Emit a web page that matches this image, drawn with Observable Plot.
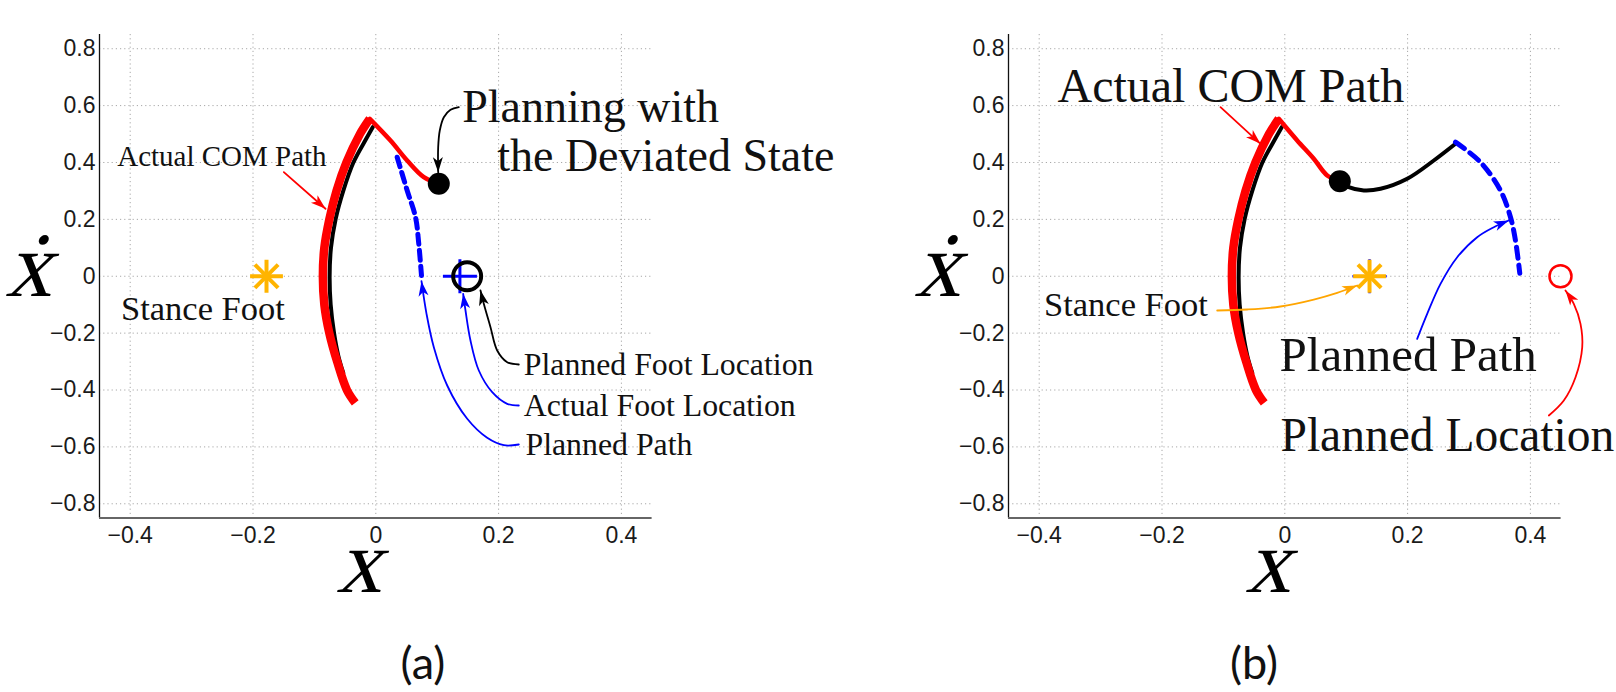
<!DOCTYPE html>
<html>
<head>
<meta charset="utf-8">
<script src="https://cdn.jsdelivr.net/npm/d3@7"></script>
<script src="https://cdn.jsdelivr.net/npm/@observablehq/plot@0.6"></script>
<style>
  html, body { margin: 0; padding: 0; background: #fff; }
  #wrap { position: relative; width: 1616px; height: 692px; overflow: hidden; background: #fff; }
  .panel { position: absolute; top: 0; width: 707px; }
  .cap { position: absolute; top: 640px; transform: translateX(-50%); font-family: Lato, "Open Sans", sans-serif; font-size: 45px; line-height: 45px; color: #111; white-space: nowrap; }
</style>
</head>
<body>
<div id="wrap">
  <div class="panel" id="pa" style="left:0px"></div>
  <div class="panel" id="pb" style="left:909px"></div>
  <div class="cap" style="left:423px">(a)</div>
  <div class="cap" style="left:1254px">(b)</div>
</div>
<script>
// ---------- axes ----------
const xDomain = [-0.45, 0.45];
const yDomain = [-0.85, 0.85];
const xTicks = [-0.4, -0.2, 0, 0.2, 0.4];
const yTicks = [-0.8, -0.6, -0.4, -0.2, 0, 0.2, 0.4, 0.6, 0.8];
const xLabel = "x";
const yLabel = "\u1E8B";

// ---------- shared COM path (x, xdot) ----------
const comArc = [[-0.0335,-0.445],[-0.047,-0.4],[-0.063,-0.3],[-0.0757,-0.2],[-0.0838,-0.1],[-0.0862,0],[-0.0838,0.1],[-0.0757,0.2],[-0.064,0.3],[-0.0478,0.4],[-0.0258,0.5],[-0.0098,0.5536]];
const comInner = [[-0.053,-0.34],[-0.061,-0.28],[-0.068,-0.2],[-0.0735,-0.1],[-0.0752,0],[-0.073,0.1],[-0.0655,0.2],[-0.053,0.3],[-0.0365,0.4],[-0.0165,0.48],[-0.005,0.524]];

// ---------- panel (a) ----------
const comTailA = [[-0.0098,0.5536],[0.0239,0.4773],[0.0511,0.407],[0.0782,0.3483],[0.1026,0.325]];
const plannedPathA = [[0.0348,0.4186],[0.0511,0.3015],[0.0647,0.2076],[0.07,0.114],[0.0744,0.0026]];
const deviatedStateA = [[0.1026,0.325]];
const stanceFootA = [[-0.178,0]];
const actualFootA = [[0.137,0]];
const plannedFootA = [[0.1488,0]];

const comPointerA = [[-0.1498,0.3659],[-0.0819,0.2372]];
const deviatedPointerA = [[0.1352,0.5944],[0.1217,0.5852],[0.1108,0.5592],[0.1042,0.5125],[0.1016,0.4538],[0.1016,0.3658]];
const plannedFootPointerA = [[0.2329,-0.3103],[0.214,-0.3022],[0.1977,-0.2611],[0.1868,-0.1791],[0.1759,-0.0969],[0.1705,-0.0501]];
const actualFootPointerA = [[0.2329,-0.4545],[0.214,-0.4485],[0.1896,-0.4077],[0.1678,-0.3314],[0.1542,-0.2259],[0.1461,-0.1204],[0.1423,-0.0617]];
const plannedPathPointerA = [[0.2329,-0.5916],[0.2085,-0.594],[0.1814,-0.568],[0.1489,-0.5012],[0.1163,-0.3841],[0.0945,-0.2495],[0.0826,-0.132],[0.0744,-0.0174]];

const smallLabelA = [{x:-0.4212, y:0.4193, text:"Actual COM Path"}];
const stanceLabelA = [{x:-0.415, y:-0.1159, text:"Stance Foot"}];
const bigLabelA = [{x:0.1407, y:0.5934, text:"Planning with"}, {x:0.1977, y:0.4235, text:"the Deviated State"}];
const footLabelsA = [{x:0.241, y:-0.3121, text:"Planned Foot Location"}, {x:0.241, y:-0.4569, text:"Actual Foot Location"}, {x:0.2438, y:-0.5934, text:"Planned Path"}];

// ---------- panel (b) ----------
const comTailB = [[-0.0098,0.5536],[0.0202,0.4773],[0.0472,0.413],[0.0691,0.3543],[0.0896,0.3342]];
const replannedB = [[0.0896,0.3342],[0.1042,0.3131],[0.1287,0.3015],[0.1559,0.3074],[0.1993,0.3427],[0.2427,0.407],[0.278,0.4657]];
const plannedPathB = [[0.278,0.4714],[0.3187,0.401],[0.3513,0.3015],[0.3676,0.2076],[0.3757,0.1257],[0.3827,0.0107]];
const deviatedStateB = [[0.0896,0.3342]];
const stanceFootB = [[0.138,0]];
const plannedLocationB = [[0.449,0]];

const comPointerB = [[-0.1047,0.5944],[-0.0396,0.4657]];
const stancePointerB = [[-0.1101,-0.1204],[-0.0612,-0.1169],[-0.007,-0.1064],[0.0472,-0.0818],[0.0853,-0.0583],[0.1179,-0.0325]];
const plannedPathPointerB = [[0.2156,-0.22],[0.2319,-0.1321],[0.2536,-0.0266],[0.2808,0.067],[0.3133,0.1373],[0.3404,0.1725],[0.3648,0.196]];
const plannedLocPointerB = [[0.43,-0.4896],[0.4544,-0.4369],[0.4735,-0.3549],[0.4844,-0.2495],[0.4816,-0.1672],[0.4707,-0.0969],[0.4571,-0.0501]];

const comLabelB = [{x:-0.3702, y:0.6651, text:"Actual COM Path"}];
const pathLabelB = [{x:-0.0086, y:-0.2787, text:"Planned Path"}];
const locLabelB = [{x:-0.007, y:-0.561, text:"Planned Location"}];
const stanceLabelB = [{x:-0.3922, y:-0.1007, text:"Stance Foot"}];

// ---------- helpers ----------
const SERIF = "'Liberation Serif', 'Times New Roman', serif";
const W = 707, H = 610;
const px = d => d[0], py = d => d[1];
const fmt = d => (d < 0 ? "\u2212" : "") + Math.abs(d);

function headMarker(color) {
  const ns = "http://www.w3.org/2000/svg";
  const m = document.createElementNS(ns, "marker");
  m.setAttribute("viewBox", "-16 -7 18 14");
  m.setAttribute("markerWidth", 18);
  m.setAttribute("markerHeight", 14);
  m.setAttribute("markerUnits", "userSpaceOnUse");
  m.setAttribute("refX", 0);
  m.setAttribute("refY", 0);
  m.setAttribute("orient", "auto");
  const p = document.createElementNS(ns, "path");
  p.setAttribute("d", "M0,0L-15,-5L-11,0L-15,5Z");
  p.setAttribute("fill", color);
  p.setAttribute("stroke", "none");
  m.appendChild(p);
  return m;
}

function pointer(pts, color) {
  const opts = {x: px, y: py, stroke: color, strokeWidth: 1.8, curve: "catmull-rom"};
  try { return Plot.line(pts, {...opts, markerEnd: headMarker}); }
  catch (e) { return Plot.line(pts, {...opts, markerEnd: "arrow"}); }
}

function labels(data, size) {
  return Plot.text(data, {x: "x", y: "y", text: "text", textAnchor: "start", lineAnchor: "middle", fontSize: size, fontFamily: SERIF, fill: "#111"});
}

function asterisk(pt) {
  return [
    Plot.dot(pt, {x: px, y: py, r: 10.6, symbol: "plus", stroke: "#ffb400", strokeWidth: 4}),
    Plot.dot(pt, {x: px, y: py, r: 10.6, symbol: "times", stroke: "#ffb400", strokeWidth: 4})
  ];
}

function panel(marks) {
  return Plot.plot({
    width: W, height: H,
    marginLeft: 99, marginRight: 55.4, marginTop: 34, marginBottom: H - 517.5,
    x: {domain: xDomain, ticks: xTicks, tickSize: 0, tickPadding: 9, tickFormat: fmt, label: null},
    y: {domain: yDomain, ticks: yTicks, tickSize: 0, tickPadding: 4, tickFormat: fmt, label: null},
    style: {fontFamily: "'Liberation Sans', Arial, sans-serif", fontSize: "23px", color: "#1a1a1a", background: "transparent", overflow: "visible", maxWidth: "none"},
    marks: [
      Plot.ruleX(xTicks, {stroke: "#a8a8a8", strokeWidth: 1, strokeDasharray: "1.2,3"}),
      Plot.ruleY(yTicks, {stroke: "#a8a8a8", strokeWidth: 1, strokeDasharray: "1.2,3"}),
      Plot.ruleX([xDomain[0]], {stroke: "#111", strokeWidth: 1.3}),
      Plot.ruleY([yDomain[0]], {stroke: "#666", strokeWidth: 2}),
      Plot.line(comInner, {x: px, y: py, stroke: "#000", strokeWidth: 4, curve: "catmull-rom"}),
      Plot.line(comArc, {x: px, y: py, stroke: "#ff0000", strokeWidth: 8.5, curve: "catmull-rom", strokeLinecap: "butt"}),
      ...marks,
      Plot.text([xLabel], {text: d => d, frameAnchor: "bottom", textAnchor: "middle", lineAnchor: "middle", dy: 44.7, dx: -9, fontSize: 90, fontFamily: SERIF, fill: "#000"}),
      Plot.text([yLabel], {text: d => d, frameAnchor: "left", textAnchor: "middle", lineAnchor: "middle", dx: -63, dy: -9.5, fontSize: 92, fontFamily: SERIF, fill: "#000"})
    ]
  });
}

const plotA = panel([
  Plot.line(comTailA, {x: px, y: py, stroke: "#ff0000", strokeWidth: 4.5, curve: "catmull-rom", strokeLinecap: "round"}),
  Plot.line(plannedPathA, {x: px, y: py, stroke: "#0000ff", strokeWidth: 5, strokeDasharray: "10,6", curve: "catmull-rom"}),
  Plot.dot(actualFootA, {x: px, y: py, r: 11, symbol: "plus", stroke: "#0000ff", strokeWidth: 3}),
  Plot.dot(plannedFootA, {x: px, y: py, r: 14, stroke: "#000", strokeWidth: 4, fill: "none"}),
  Plot.dot(deviatedStateA, {x: px, y: py, r: 11, fill: "#000", stroke: "none"}),
  ...asterisk(stanceFootA),
  pointer(comPointerA, "#ff0000"),
  pointer(deviatedPointerA, "#000"),
  pointer(plannedFootPointerA, "#000"),
  pointer(actualFootPointerA, "#0000ff"),
  pointer(plannedPathPointerA, "#0000ff"),
  labels(smallLabelA, 29),
  labels(stanceLabelA, 34.5),
  labels(bigLabelA, 46),
  labels(footLabelsA, 31.8)
]);

const plotB = panel([
  Plot.line(comTailB, {x: px, y: py, stroke: "#ff0000", strokeWidth: 4.5, curve: "catmull-rom", strokeLinecap: "round"}),
  Plot.line(replannedB, {x: px, y: py, stroke: "#000", strokeWidth: 4, curve: "catmull-rom"}),
  Plot.line(plannedPathB, {x: px, y: py, stroke: "#0000ff", strokeWidth: 5, strokeDasharray: "11,7", curve: "catmull-rom"}),
  Plot.dot(deviatedStateB, {x: px, y: py, r: 11, fill: "#000", stroke: "none"}),
  Plot.dot(stanceFootB, {x: px, y: py, r: 11, symbol: "plus", stroke: "#0000ff", strokeWidth: 2.5}),
  ...asterisk(stanceFootB),
  Plot.dot(plannedLocationB, {x: px, y: py, r: 11, stroke: "#ff0000", strokeWidth: 2.5, fill: "none"}),
  pointer(comPointerB, "#ff0000"),
  pointer(stancePointerB, "#ffa500"),
  pointer(plannedPathPointerB, "#0000ff"),
  pointer(plannedLocPointerB, "#ff0000"),
  labels(comLabelB, 48),
  labels(pathLabelB, 49),
  labels(locLabelB, 47.5),
  labels(stanceLabelB, 34.5)
]);

document.getElementById("pa").appendChild(plotA);
document.getElementById("pb").appendChild(plotB);

// slant the serif axis letters (math italic look) about their own centre
[plotA, plotB].forEach(svg => {
  svg.querySelectorAll("text").forEach(t => {
    if (t.textContent === xLabel || t.textContent === yLabel) {
      const bb = t.getBBox();
      const cx = bb.x + bb.width / 2, cy = bb.y + bb.height / 2;
      const prev = t.getAttribute("transform") || "";
      t.setAttribute("transform", `${prev} translate(${cx},${cy}) skewX(-15) translate(${-cx},${-cy})`.trim());
    }
  });
});
</script>
</body>
</html>
